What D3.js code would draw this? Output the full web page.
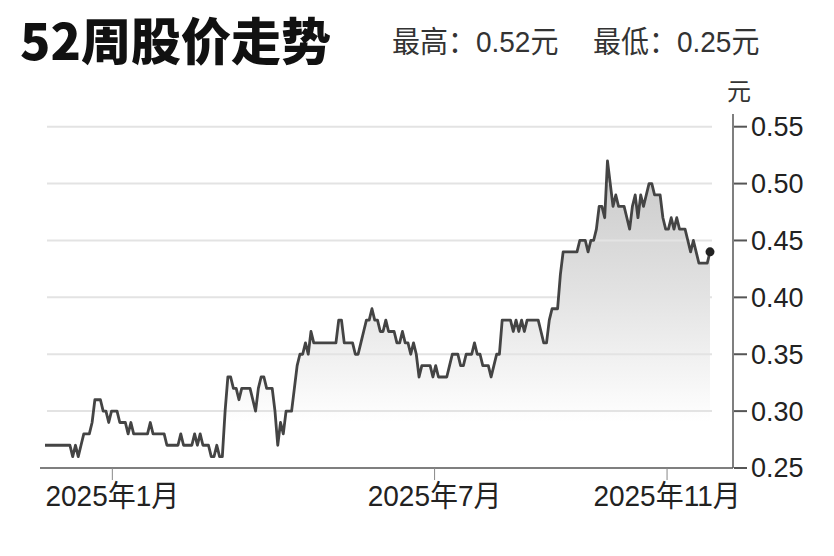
<!DOCTYPE html>
<html lang="zh">
<head>
  <meta charset="utf-8">
  <title>52周股价走势</title>
  <style>
    body { margin:0; background:#fff; }
    svg  { display:block; }
    text { font-family: "Liberation Sans", "Noto Sans CJK SC", sans-serif; fill:#222; }
  </style>
</head>
<body>
<script src="https://d3js.org/d3.v7.min.js"></script>
<script>

// daily closing prices (trading days)
const closes = [
  0.27,0.27,0.27,0.27,0.27,0.27,0.27,0.27,0.27,0.27,
  0.26,0.27,0.26,0.27,0.28,0.28,0.28,0.29,0.31,0.31,
  0.31,0.30,0.30,0.29,0.30,0.30,0.30,0.29,0.29,0.29,
  0.28,0.29,0.28,0.28,0.28,0.28,0.28,0.28,0.29,0.28,
  0.28,0.28,0.28,0.28,0.27,0.27,0.27,0.27,0.27,0.28,
  0.27,0.27,0.27,0.27,0.28,0.27,0.28,0.27,0.27,0.27,
  0.26,0.26,0.27,0.26,0.26,0.30,0.33,0.33,0.32,0.32,
  0.31,0.32,0.32,0.32,0.32,0.31,0.30,0.32,0.33,0.33,
  0.32,0.32,0.32,0.30,0.27,0.29,0.28,0.30,0.30,0.30,
  0.32,0.34,0.35,0.35,0.36,0.35,0.37,0.36,0.36,0.36,
  0.36,0.36,0.36,0.36,0.36,0.36,0.38,0.38,0.36,0.36,
  0.36,0.36,0.35,0.35,0.36,0.37,0.38,0.38,0.39,0.38,
  0.38,0.37,0.37,0.38,0.37,0.37,0.37,0.36,0.36,0.37,
  0.36,0.36,0.35,0.36,0.35,0.33,0.34,0.34,0.34,0.34,
  0.33,0.34,0.33,0.33,0.33,0.33,0.34,0.35,0.35,0.35,
  0.34,0.34,0.35,0.35,0.35,0.36,0.35,0.35,0.34,0.34,
  0.34,0.33,0.34,0.35,0.35,0.38,0.38,0.38,0.38,0.37,
  0.38,0.37,0.38,0.37,0.38,0.38,0.38,0.38,0.38,0.37,
  0.36,0.36,0.38,0.39,0.39,0.39,0.42,0.44,0.44,0.44,
  0.44,0.44,0.44,0.45,0.45,0.45,0.44,0.45,0.45,0.46,
  0.48,0.48,0.47,0.52,0.50,0.48,0.49,0.48,0.48,0.48,
  0.47,0.46,0.48,0.49,0.47,0.49,0.48,0.49,0.50,0.50,
  0.49,0.49,0.49,0.47,0.46,0.46,0.47,0.46,0.47,0.46,
  0.46,0.46,0.45,0.44,0.45,0.44,0.43,0.43,0.43,0.43,
  0.44
];

// month ticks, as trading-day index
const monthTicks  = [24.3, 140.6, 224.5];
const monthLabels = ["2025年1月", "2025年7月", "2025年11月"];

const priceTicks = [0.25, 0.30, 0.35, 0.40, 0.45, 0.50, 0.55];

const title    = "52周股价走势";
const highText = "最高：0.52元";
const lowText  = "最低：0.25元";
const unit     = "元";

const width = 834, height = 556;

const svg = d3.select("body").append("svg")
  .attr("width", width)
  .attr("height", height);

const x = d3.scaleLinear()
  .domain([0, closes.length - 1])
  .range([45, 710]);

const y = d3.scaleLinear()
  .domain([0.25, 0.55])
  .range([468, 126.7]);

const data = closes.map((v, i) => ({ i, v }));

// gradient for the area
const grad = svg.append("defs").append("linearGradient")
  .attr("id", "fade")
  .attr("gradientUnits", "userSpaceOnUse")
  .attr("x1", 0).attr("x2", 0)
  .attr("y1", y(0.52)).attr("y2", y(0.29));
grad.append("stop").attr("offset", 0).attr("stop-color", "#c9c9c9");
grad.append("stop").attr("offset", 0.5).attr("stop-color", "#e2e2e2");
grad.append("stop").attr("offset", 1).attr("stop-color", "#ffffff");

// title
svg.append("text")
  .attr("x", 20).attr("y", 60)
  .style("font-family", "'Noto Sans CJK SC', sans-serif")
  .style("font-size", "50px")
  .style("font-weight", 900)
  .style("fill", "#111")
  .text(title);

svg.append("text")
  .attr("transform", "translate(392,52) scale(1,1.05)")
  .style("font-size", "28px")
  .style("fill", "#333")
  .text(highText);

svg.append("text")
  .attr("transform", "translate(593,52) scale(1,1.05)")
  .style("font-size", "28px")
  .style("fill", "#333")
  .text(lowText);

// area
svg.append("path")
  .datum(data)
  .attr("fill", "url(#fade)")
  .attr("d", d3.area()
    .x(d => x(d.i))
    .y0(y(0.25))
    .y1(d => y(d.v)));

// grid lines
svg.append("g")
  .selectAll("line")
  .data(priceTicks.slice(1))
  .join("line")
    .attr("x1", 47).attr("x2", 712)
    .attr("y1", d => y(d)).attr("y2", d => y(d))
    .attr("stroke", "#e3e3e3")
    .attr("stroke-width", 2);

// price line
svg.append("path")
  .datum(data)
  .attr("fill", "none")
  .attr("stroke", "#444")
  .attr("stroke-width", 2.8)
  .attr("stroke-linejoin", "round")
  .attr("d", d3.line()
    .x(d => x(d.i))
    .y(d => y(d.v)));

const last = data[data.length - 1];
svg.append("circle")
  .attr("cx", x(last.i))
  .attr("cy", y(last.v))
  .attr("r", 4.5)
  .attr("fill", "#222");

// x axis
const xAxis = svg.append("g");
xAxis.append("line")
  .attr("x1", 40).attr("x2", 733)
  .attr("y1", y(0.25)).attr("y2", y(0.25))
  .attr("stroke", "#555")
  .attr("stroke-width", 1.5);

xAxis.selectAll(".tick")
  .data(monthTicks)
  .join("line")
    .attr("x1", d => x(d)).attr("x2", d => x(d))
    .attr("y1", y(0.25)).attr("y2", y(0.25) + 12)
    .attr("stroke", "#888")
    .attr("stroke-width", 1);

xAxis.selectAll("text")
  .data(monthTicks)
  .join("text")
    .attr("transform", d => `translate(${x(d)},506) scale(1,1.05)`)
    .attr("text-anchor", "middle")
    .style("font-size", "28px")
    .text((d, i) => monthLabels[i]);

// y axis on the right
const yAxis = svg.append("g").attr("transform", "translate(733,0)");
yAxis.append("line")
  .attr("x1", 0).attr("x2", 0)
  .attr("y1", 114).attr("y2", y(0.25))
  .attr("stroke", "#555")
  .attr("stroke-width", 1.5);

yAxis.selectAll(".tk")
  .data(priceTicks)
  .join("line")
    .attr("x1", 1).attr("x2", 14)
    .attr("y1", d => y(d)).attr("y2", d => y(d))
    .attr("stroke", "#555")
    .attr("stroke-width", 2);

yAxis.selectAll("text.lbl")
  .data(priceTicks)
  .join("text")
    .attr("class", "lbl")
    .attr("x", 18)
    .attr("y", d => y(d))
    .attr("dy", "0.35em")
    .style("font-size", "27px")
    .text(d => d3.format(".2f")(d));

svg.append("text")
  .attr("x", 739).attr("y", 100)
  .attr("text-anchor", "middle")
  .style("font-size", "24px")
  .style("fill", "#333")
  .text(unit);

</script>
</body>
</html>
